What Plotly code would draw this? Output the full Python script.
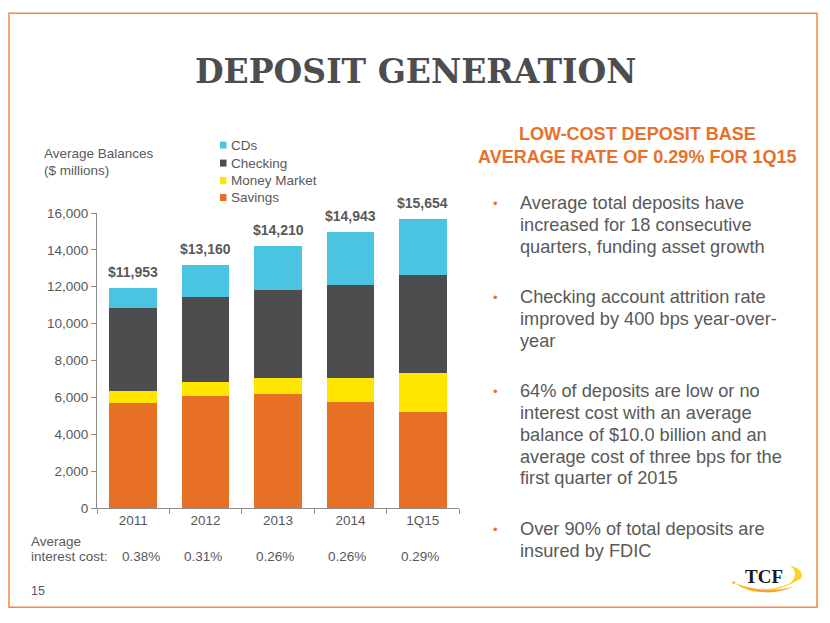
import plotly.graph_objects as go

# ---------------- data ----------------
categories = ["2011", "2012", "2013", "2014", "1Q15"]
savings = [5710, 6070, 6180, 5750, 5190]
money_market = [650, 780, 850, 1310, 2150]
checking = [4500, 4590, 4820, 5060, 5290]
cds = [1093, 1720, 2360, 2823, 3024]
totals = [11953, 13160, 14210, 14943, 15654]
interest_cost = ["0.38%", "0.31%", "0.26%", "0.26%", "0.29%"]
y_ticks = [0, 2000, 4000, 6000, 8000, 10000, 12000, 14000, 16000]

series_names = ["Savings", "Money Market", "Checking", "CDs"]
series_values = [savings, money_market, checking, cds]
series_colors = ["#E87025", "#FFE600", "#4D4D4F", "#4BC4E2"]

heading_lines = ["LOW-COST DEPOSIT BASE", "AVERAGE RATE OF 0.29% FOR 1Q15"]
bullets = [
    ["Average total deposits have", "increased for 18 consecutive",
     "quarters, funding asset growth"],
    ["Checking account attrition rate", "improved by 400 bps year-over-", "year"],
    ["64% of deposits are low or no", "interest cost with an average",
     "balance of $10.0 billion and an", "average cost of three bps for the",
     "first quarter of 2015"],
    ["Over 90% of total deposits are", "insured by FDIC"],
]

# ---------------- layout helpers (pixel -> paper) ----------------
W, H = 830, 623
PX0, PX1 = 97, 459
PY0, PY1 = 508.5, 213


def px(x):
    return (x - PX0) / (PX1 - PX0)


def py(y):
    return (PY0 - y) / (PY0 - PY1)


GRAY = "#595959"
FONT = "Liberation Sans, Arial, sans-serif"
ORANGE = "#E8702A"

fig = go.Figure()
for name, vals, col in zip(series_names, series_values, series_colors):
    fig.add_trace(go.Bar(x=categories, y=vals, name=name,
                         marker=dict(color=col, line=dict(width=0)),
                         showlegend=False, hoverinfo="skip"))

annotations = []
shapes = []

# total labels (category index positions)
for i, t in enumerate(totals):
    annotations.append(dict(x=i, y=t, xref="x", yref="y", text=f"<b>${t:,}</b>",
                            showarrow=False, yanchor="bottom", yshift=6,
                            font=dict(size=14, color=GRAY, family=FONT)))

# interest cost row
for i, v in enumerate(interest_cost):
    annotations.append(dict(x=i, y=py(557), xref="x", yref="paper", text=v,
                            showarrow=False, yanchor="middle",
                            xshift=(8 if i == 0 else -3),
                            font=dict(size=13.5, color=GRAY, family=FONT)))
annotations.append(dict(x=px(29), y=py(542), xref="paper", yref="paper",
                        text="Average", showarrow=False, xanchor="left",
                        yanchor="middle", font=dict(size=13.5, color=GRAY, family=FONT)))
annotations.append(dict(x=px(29), y=py(557), xref="paper", yref="paper",
                        text="interest cost:", showarrow=False, xanchor="left",
                        yanchor="middle", font=dict(size=13.5, color=GRAY, family=FONT)))

# axis title
for txt, yy in [("Average Balances", 153), ("($ millions)", 170)]:
    annotations.append(dict(x=px(42), y=py(yy), xref="paper", yref="paper",
                            text=txt, showarrow=False, xanchor="left",
                            yanchor="middle", font=dict(size=13.5, color=GRAY, family=FONT)))

# manual legend (reverse order: CDs on top)
leg_y = [145, 163, 180.5, 197.5]
for i, (name, col) in enumerate(zip(series_names[::-1], series_colors[::-1])):
    yy = leg_y[i]
    shapes.append(dict(type="rect", xref="paper", yref="paper",
                       x0=px(220), x1=px(226.5), y0=py(yy + 3.5), y1=py(yy - 3.5),
                       fillcolor=col, line=dict(width=0)))
    annotations.append(dict(x=px(229), y=py(yy), xref="paper", yref="paper",
                            text=name, showarrow=False, xanchor="left",
                            yanchor="middle", font=dict(size=13.5, color=GRAY, family=FONT)))

# title
annotations.append(dict(x=px(415), y=py(71), xref="paper", yref="paper",
                        text="<b>DEPOSIT GENERATION</b>", showarrow=False,
                        xanchor="center", yanchor="middle",
                        font=dict(size=33, color="#4D4D4F", family="DejaVu Serif, serif")))

# right heading
for txt, yy in zip(heading_lines, [134, 157]):
    annotations.append(dict(x=px(637), y=py(yy), xref="paper", yref="paper",
                            text=f"<b>{txt}</b>", showarrow=False, xanchor="center",
                            yanchor="middle", font=dict(size=18, color=ORANGE, family=FONT)))

# bullets
bullet_start = [203.3, 297.3, 391.7, 530]
line_h = 21.8
for lines, y0 in zip(bullets, bullet_start):
    annotations.append(dict(x=px(496), y=py(y0), xref="paper", yref="paper",
                            text="•", showarrow=False, xanchor="center",
                            yanchor="middle", font=dict(size=13, color=ORANGE, family=FONT)))
    for j, ln in enumerate(lines):
        annotations.append(dict(x=px(518), y=py(y0 + j * line_h), xref="paper",
                                yref="paper", text=ln, showarrow=False,
                                xanchor="left", yanchor="middle",
                                font=dict(size=18.2, color=GRAY, family=FONT)))

# page number
annotations.append(dict(x=px(29), y=py(592), xref="paper", yref="paper", text="15",
                        showarrow=False, xanchor="left", yanchor="middle",
                        font=dict(size=12.5, color=GRAY, family=FONT)))

# frame
shapes.append(dict(type="rect", xref="paper", yref="paper",
                   x0=px(9), x1=px(817), y0=py(608), y1=py(13),
                   line=dict(color="#EF8A45", width=1.5), fillcolor="rgba(0,0,0,0)",
                   layer="below"))


def P(x, y):
    return f"{px(x):.5f},{py(y):.5f}"


# TCF logo swoosh
swoosh_outer = (f"M {P(734,583)} Q {P(760,604)} {P(801,579)} "
                f"Q {P(805,570)} {P(790,566)} Q {P(800,574)} {P(790,584)} "
                f"Q {P(765,596)} {P(734,583)} Z")
shapes.append(dict(type="path", xref="paper", yref="paper", path=swoosh_outer,
                   fillcolor="#FFD21F", line=dict(width=0)))
swoosh_inner = (f"M {P(738,585)} Q {P(765,600)} {P(795,587)} "
                f"Q {P(765,596)} {P(738,585)} Z")
shapes.append(dict(type="path", xref="paper", yref="paper", path=swoosh_inner,
                   fillcolor="#F39A3A", line=dict(width=0)))
shapes.append(dict(type="circle", xref="paper", yref="paper",
                   x0=px(732.5), x1=px(735), y0=py(584.5), y1=py(582),
                   fillcolor="#F08A30", line=dict(width=0)))
annotations.append(dict(x=px(764), y=py(577), xref="paper", yref="paper",
                        text="<b>TCF</b>", showarrow=False, xanchor="center",
                        yanchor="middle",
                        font=dict(size=19, color="#1A1A1A",
                                  family="Liberation Serif, Times New Roman, serif")))

fig.update_layout(
    width=W, height=H,
    margin=dict(l=PX0, r=W - PX1, t=PY1, b=H - PY0, pad=0, autoexpand=False),
    paper_bgcolor="white", plot_bgcolor="white",
    barmode="stack", bargap=0.34,
    showlegend=False,
    font=dict(family=FONT, color=GRAY, size=13.5),
    xaxis=dict(type="category", categoryorder="array", categoryarray=categories,
               range=[-0.5, len(categories) - 0.5], automargin=False,
               showline=True, linecolor="#8C8C8C", linewidth=1, tickangle=0,
               ticks="outside", ticklen=5, tickcolor="#8C8C8C", tickson="boundaries",
               showgrid=False, tickfont=dict(size=13.5, color=GRAY)),
    yaxis=dict(range=[0, 16000], tickvals=y_ticks, tickformat=",d", automargin=False,
               showline=True, linecolor="#8C8C8C", linewidth=1,
               ticks="outside", ticklen=5, tickcolor="#8C8C8C",
               showgrid=False, zeroline=False, tickfont=dict(size=13.5, color=GRAY)),
    annotations=annotations,
    shapes=shapes,
)

fig.write_html("out.html", config={"displayModeBar": False},
               post_script="document.body.style.margin='0';document.body.style.padding='0';")
